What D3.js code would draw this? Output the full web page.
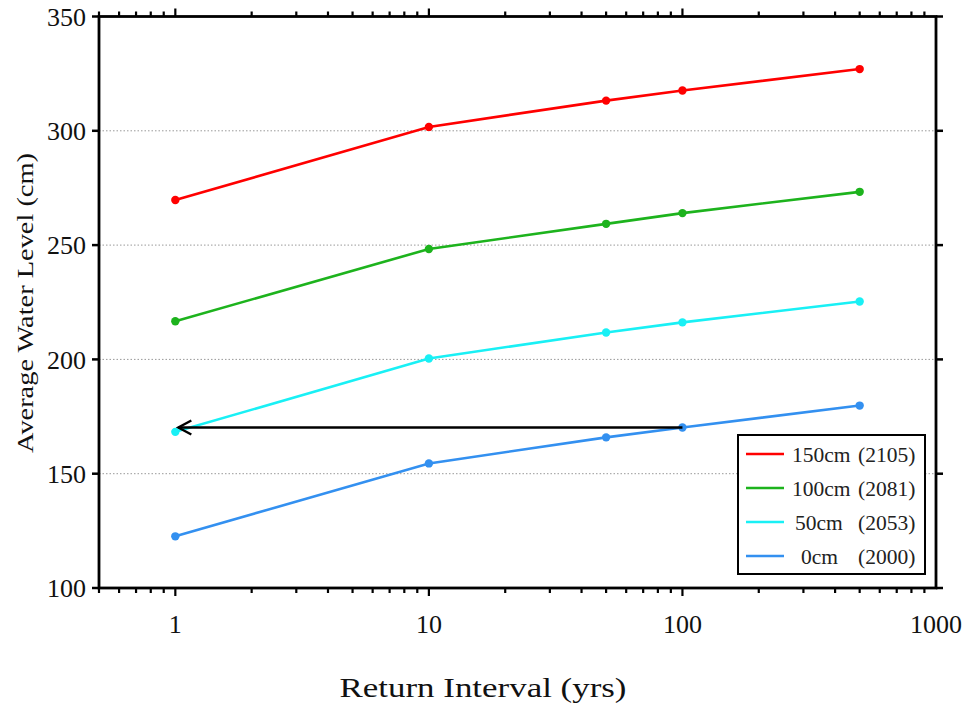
<!DOCTYPE html>
<html><head><meta charset="utf-8">
<script src="https://cdn.jsdelivr.net/npm/d3@7"></script>
<style>body{margin:0;background:#fff}svg{display:block}</style>
</head><body><svg id="c" width="968" height="704"></svg>
<script>
const returnIntervals = [1, 10, 50, 100, 500];
const s150 = [269.7, 301.7, 313.2, 317.6, 327.0];
const s100 = [216.7, 248.3, 259.3, 264.0, 273.3];
const s50  = [168.3, 200.4, 211.8, 216.2, 225.3];
const s0   = [122.6, 154.5, 165.9, 170.2, 179.8];
const seriesNames = ["150cm", "100cm", "50cm", "0cm"];
const seriesYears = ["(2105)", "(2081)", "(2053)", "(2000)"];
const seriesColors = ["#ff0000", "#1db31d", "#19f0f5", "#3390f0"];
const yTicks = [100, 150, 200, 250, 300, 350];
const xMajor = [1, 10, 100, 1000];
const arrowFrom = [100, 170.2], arrowTo = [1, 170.2];

const svg = d3.select("#c");
const L = 99, R = 936, T = 16.5, B = 588;
const x = d3.scaleLog().domain([0.5, 1000]).range([L, R]);
const y = d3.scaleLinear().domain([100, 350]).range([B, T]);
const serif = "'Liberation Serif','Times New Roman',serif";

// gridlines
svg.append("g").selectAll("line").data(yTicks.filter(v => v > 100 && v < 350)).join("line")
  .attr("x1", L).attr("x2", R).attr("y1", d => y(d)).attr("y2", d => y(d))
  .attr("stroke", "#999").attr("stroke-width", 1).attr("stroke-dasharray", "1.5,2");

// minor ticks
const minor = [];
for (let e = -1; e <= 2; e++) for (let m = 1; m <= 9; m++) { const v = m * Math.pow(10, e); if (v >= 0.5 && v <= 1000) minor.push(v); }
const isMajor = v => xMajor.some(M => Math.abs(M - v) < 1e-9);

const fr = svg.append("g").attr("stroke", "#000");
minor.forEach(v => {
  const len = isMajor(v) ? 8 : 5;
  fr.append("line").attr("x1", x(v)).attr("x2", x(v)).attr("y1", B).attr("y2", B + len).attr("stroke-width", 2.2);
  fr.append("line").attr("x1", x(v)).attr("x2", x(v)).attr("y1", T).attr("y2", T - len).attr("stroke-width", 2.2);
});
yTicks.forEach(v => {
  fr.append("line").attr("x1", L).attr("x2", L - 7).attr("y1", y(v)).attr("y2", y(v)).attr("stroke-width", 2.5);
  fr.append("line").attr("x1", R).attr("x2", R + 7).attr("y1", y(v)).attr("y2", y(v)).attr("stroke-width", 2.5);
});
fr.append("rect").attr("x", L).attr("y", T).attr("width", R - L).attr("height", B - T)
  .attr("fill", "none").attr("stroke-width", 2.8);

// tick labels
svg.append("g").selectAll("text").data(yTicks).join("text")
  .attr("x", L - 13).attr("y", d => y(d)).attr("dy", "0.35em").attr("text-anchor", "end")
  .attr("font-family", serif).attr("font-size", 26).attr("fill", "#111").text(d => d);
svg.append("g").selectAll("text").data(xMajor).join("text")
  .attr("x", d => x(d)).attr("y", 633).attr("text-anchor", "middle")
  .attr("font-family", serif).attr("font-size", 26).attr("fill", "#111").text(d => d);

// axis titles
svg.append("text").attr("transform", "translate(33,303) rotate(-90)").attr("text-anchor", "middle")
  .attr("font-family", serif).attr("font-size", 23).attr("fill", "#111")
  .attr("textLength", 300).attr("lengthAdjust", "spacingAndGlyphs").text("Average Water Level (cm)");
svg.append("text").attr("x", 483).attr("y", 697).attr("text-anchor", "middle")
  .attr("font-family", serif).attr("font-size", 27).attr("fill", "#111")
  .attr("textLength", 287).attr("lengthAdjust", "spacingAndGlyphs").text("Return Interval (yrs)");

// series
const allSeries = [s150, s100, s50, s0];
const line = d3.line().x(d => x(d[0])).y(d => y(d[1]));
allSeries.forEach((s, i) => {
  const pts = returnIntervals.map((r, j) => [r, s[j]]);
  svg.append("path").datum(pts).attr("d", line).attr("fill", "none")
    .attr("stroke", seriesColors[i]).attr("stroke-width", 2.6);
  svg.append("g").selectAll("circle").data(pts).join("circle")
    .attr("cx", d => x(d[0])).attr("cy", d => y(d[1])).attr("r", 4.2).attr("fill", seriesColors[i]);
});

// arrow
const ax1 = x(arrowFrom[0]), ax2 = x(arrowTo[0]) + 3, ay = y(arrowFrom[1]);
svg.append("line").attr("x1", ax1).attr("x2", ax2).attr("y1", ay).attr("y2", ay)
  .attr("stroke", "#000").attr("stroke-width", 2.4);
svg.append("path").attr("d", `M${ax2 + 13},${ay - 7} L${ax2},${ay} L${ax2 + 13},${ay + 7}`)
  .attr("fill", "none").attr("stroke", "#000").attr("stroke-width", 2.4);

// legend
const lg = svg.append("g");
lg.append("rect").attr("x", 738).attr("y", 435).attr("width", 187).attr("height", 139)
  .attr("fill", "#fff").attr("stroke", "#000").attr("stroke-width", 2);
const nameX = [792, 792, 795, 801];
seriesNames.forEach((n, i) => {
  const yy = 454 + i * 34;
  lg.append("line").attr("x1", 746).attr("x2", 784).attr("y1", yy).attr("y2", yy)
    .attr("stroke", seriesColors[i]).attr("stroke-width", 2.6);
  const t = lg.append("text").attr("y", yy).attr("dy", "0.35em")
    .attr("font-family", serif).attr("font-size", 21.5).attr("fill", "#222");
  t.append("tspan").attr("x", nameX[i]).text(n);
  t.append("tspan").attr("x", 858).text(seriesYears[i]);
});
</script></body></html>
